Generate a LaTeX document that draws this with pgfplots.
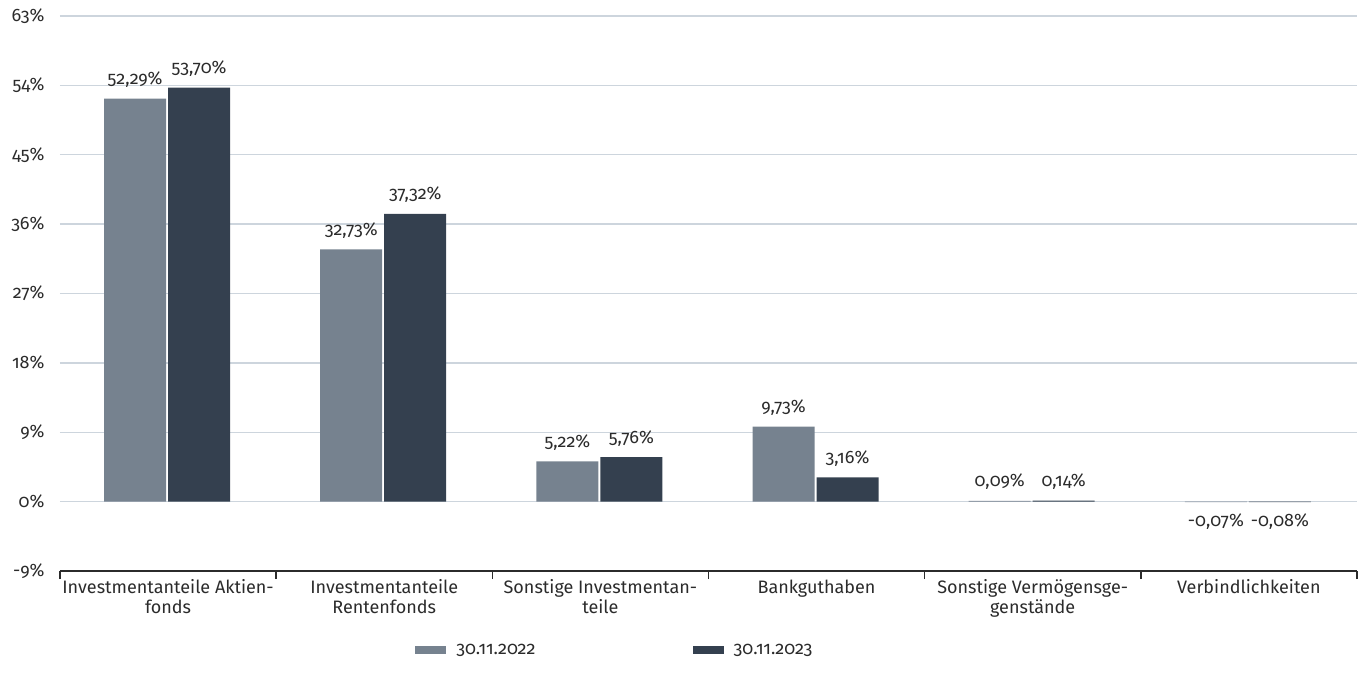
\documentclass[border=0pt]{standalone}
\usepackage{pgfplots}
\pgfplotsset{compat=1.18}
\usepackage{fontspec}
\setmainfont{Fira Sans}[Numbers=OldStyle]
\definecolor{barA}{HTML}{76828F}
\definecolor{barB}{HTML}{34404F}
\definecolor{gridc}{HTML}{CDD5DD}
\definecolor{txt}{HTML}{2B2B2B}
\newcommand{\chartfont}{\fontsize{18}{19.5}\selectfont}
\begin{document}
\begin{tikzpicture}[font=\chartfont]
  \path[use as bounding box] (-60pt,-118pt) rectangle (1303pt,571pt);
  \begin{axis}[
    at={(0,0)}, anchor=south west,
    scale only axis,
    width=1297pt, height=555pt,
    ybar, bar width=62pt,
    xmin=-0.5, xmax=5.5,
    ymin=-9, ymax=63,
    ytick={-9,0,9,18,27,36,45,54,63},
    yticklabels={-9\%,0\%,9\%,18\%,27\%,36\%,45\%,54\%,63\%},
    xtick={0,1,2,3,4,5},
    xticklabels={{Investmentanteile Aktien-\\fonds},{Investmentanteile\\Rentenfonds},{Sonstige Investmentan-\\teile},{Bankguthaben},{Sonstige Vermögensge-\\genstände},{Verbindlichkeiten}},
    xticklabel style={align=center, text=txt, yshift=-1pt, font=\chartfont},
    yticklabel style={text=txt, xshift=-12pt, font=\chartfont, anchor=east},
    axis x line*=bottom, axis y line*=left,
    y axis line style={draw=none},
    x axis line style={draw=txt, line width=1.6pt, -},
    major x tick style={draw=none},
    ytick style={draw=none},
    extra x ticks={-0.5,0.5,1.5,2.5,3.5,4.5,5.5},
    extra x tick labels={},
    extra x tick style={tick align=outside, major tick length=8pt,
      major x tick style={draw=txt, line width=1.6pt}, grid=none},
    ymajorgrids, grid style={gridc, line width=1.4pt},
    /pgf/number format/assume math mode=true,
    nodes near coords={\pgfmathprintnumber[fixed, fixed zerofill, precision=2, use comma]{\pgfplotspointmeta}\%},
    every node near coord/.append style={text=txt, inner sep=11pt, font=\chartfont},
    nodes near coords align={vertical},
    legend style={draw=none, at={(0.4270,-0.142)}, anchor=center,
      legend columns=2, text=txt, font=\chartfont,
      nodes={inner sep=0pt, text depth=0pt},
      /tikz/every odd column/.append style={column sep=10pt},
      /tikz/every even column/.append style={column sep=157pt}},
    legend image code/.code={\fill (0pt,-4pt) rectangle (31pt,4pt);},
  ]
    \addplot[fill=barA, draw=none, bar shift=-33pt] coordinates {
      (0,52.29) (1,32.73) (2,5.22) (3,9.73) (4,0.09) (5,-0.07)
    };
    \addplot[fill=barB, draw=none, bar shift=31pt] coordinates {
      (0,53.70) (1,37.32) (2,5.76) (3,3.16) (4,0.14) (5,-0.08)
    };
    \legend{30.11.2022, 30.11.2023}
  \end{axis}
\end{tikzpicture}
\end{document}
